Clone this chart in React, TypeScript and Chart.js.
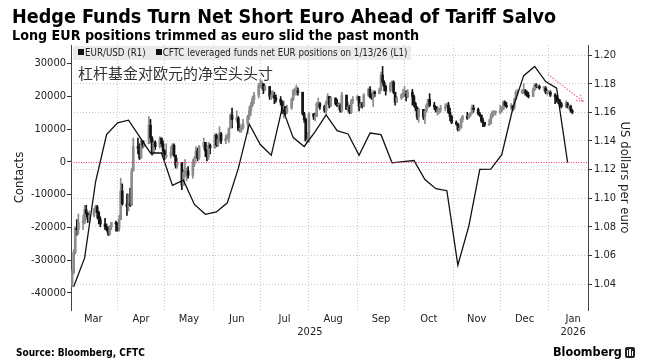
import React, { useEffect, useRef } from 'react';
import { Chart, registerables } from 'chart.js';
Chart.register(...registerables);

const FONT = "'DejaVu Sans Condensed', 'DejaVu Sans', sans-serif";

// Day numbers counted from 1 Jan 2025 (= 0)
const X_MIN = 60.3;
const X_MAX = 390;
const eurFirstMonday = 61; // Mon 3 Mar 2025
const eurFirstOpen = 1.04;

// EUR/USD daily closes, one row per week (Mon..Fri)
const eurClose: number[][] = [
  [1.048, 1.062, 1.079, 1.078, 1.083],
  [1.083, 1.092, 1.089, 1.085, 1.088],
  [1.092, 1.094, 1.090, 1.085, 1.082],
  [1.080, 1.079, 1.075, 1.080, 1.083],
  [1.082, 1.079, 1.085, 1.105, 1.096],
  [1.094, 1.096, 1.095, 1.119, 1.136],
  [1.135, 1.128, 1.140, 1.137, 1.138],
  [1.151, 1.142, 1.131, 1.139, 1.136],
  [1.142, 1.138, 1.133, 1.129, 1.130],
  [1.132, 1.137, 1.130, 1.123, 1.125],
  [1.109, 1.118, 1.118, 1.119, 1.116],
  [1.124, 1.128, 1.133, 1.128, 1.136],
  [1.139, 1.133, 1.129, 1.137, 1.135],
  [1.144, 1.137, 1.141, 1.145, 1.140],
  [1.142, 1.142, 1.149, 1.158, 1.155],
  [1.156, 1.148, 1.148, 1.149, 1.152],
  [1.157, 1.161, 1.165, 1.169, 1.172],
  [1.179, 1.180, 1.180, 1.176, 1.178],
  [1.171, 1.172, 1.172, 1.170, 1.169],
  [1.167, 1.160, 1.164, 1.160, 1.163],
  [1.169, 1.175, 1.175, 1.175, 1.174],
  [1.159, 1.155, 1.140, 1.141, 1.159],
  [1.157, 1.157, 1.166, 1.166, 1.164],
  [1.161, 1.167, 1.171, 1.165, 1.170],
  [1.166, 1.165, 1.165, 1.161, 1.172],
  [1.162, 1.164, 1.160, 1.168, 1.169],
  [1.171, 1.164, 1.166, 1.164, 1.172],
  [1.176, 1.171, 1.170, 1.174, 1.173],
  [1.176, 1.186, 1.181, 1.178, 1.175],
  [1.180, 1.181, 1.174, 1.167, 1.170],
  [1.172, 1.173, 1.173, 1.171, 1.174],
  [1.171, 1.166, 1.163, 1.157, 1.162],
  [1.157, 1.161, 1.165, 1.169, 1.165],
  [1.164, 1.161, 1.161, 1.162, 1.163],
  [1.163, 1.165, 1.160, 1.157, 1.153],
  [1.152, 1.148, 1.149, 1.155, 1.157],
  [1.156, 1.158, 1.159, 1.163, 1.162],
  [1.159, 1.158, 1.154, 1.153, 1.151],
  [1.152, 1.157, 1.160, 1.160, 1.160],
  [1.161, 1.162, 1.167, 1.165, 1.164],
  [1.164, 1.163, 1.169, 1.174, 1.174],
  [1.175, 1.175, 1.174, 1.172, 1.171],
  [1.176, 1.179, 1.178, 1.178, 1.177],
  [1.177, 1.174, 1.174, 1.174, 1.172],
  [1.171, 1.169, 1.168, 1.166, 1.164],
  [1.166, 1.164, 1.164, 1.161, 1.160],
];

const eurHigh: number[][] = [
  [1.050, 1.064, 1.080, 1.085, 1.089],
  [1.088, 1.095, 1.095, 1.090, 1.091],
  [1.093, 1.095, 1.095, 1.091, 1.087],
  [1.086, 1.082, 1.080, 1.081, 1.083],
  [1.084, 1.083, 1.088, 1.114, 1.110],
  [1.103, 1.103, 1.107, 1.121, 1.142],
  [1.142, 1.138, 1.141, 1.140, 1.140],
  [1.157, 1.155, 1.143, 1.140, 1.140],
  [1.143, 1.142, 1.140, 1.134, 1.138],
  [1.136, 1.138, 1.138, 1.130, 1.128],
  [1.125, 1.120, 1.127, 1.121, 1.122],
  [1.127, 1.129, 1.136, 1.135, 1.137],
  [1.142, 1.139, 1.134, 1.139, 1.138],
  [1.145, 1.145, 1.143, 1.150, 1.146],
  [1.144, 1.145, 1.149, 1.159, 1.163],
  [1.161, 1.157, 1.152, 1.151, 1.155],
  [1.158, 1.164, 1.167, 1.171, 1.174],
  [1.180, 1.183, 1.182, 1.180, 1.179],
  [1.178, 1.175, 1.175, 1.174, 1.172],
  [1.171, 1.168, 1.168, 1.164, 1.165],
  [1.170, 1.176, 1.177, 1.179, 1.177],
  [1.174, 1.160, 1.156, 1.146, 1.160],
  [1.159, 1.160, 1.167, 1.170, 1.167],
  [1.165, 1.168, 1.173, 1.171, 1.171],
  [1.170, 1.169, 1.167, 1.166, 1.174],
  [1.172, 1.167, 1.165, 1.169, 1.171],
  [1.172, 1.171, 1.167, 1.167, 1.173],
  [1.177, 1.178, 1.173, 1.175, 1.175],
  [1.177, 1.188, 1.192, 1.182, 1.179],
  [1.181, 1.182, 1.182, 1.174, 1.171],
  [1.173, 1.176, 1.178, 1.175, 1.176],
  [1.176, 1.172, 1.167, 1.164, 1.163],
  [1.162, 1.162, 1.166, 1.169, 1.173],
  [1.167, 1.164, 1.164, 1.163, 1.165],
  [1.166, 1.166, 1.167, 1.163, 1.158],
  [1.154, 1.152, 1.151, 1.156, 1.158],
  [1.160, 1.159, 1.160, 1.165, 1.165],
  [1.163, 1.160, 1.158, 1.156, 1.153],
  [1.155, 1.159, 1.161, 1.161, 1.161],
  [1.165, 1.164, 1.168, 1.168, 1.167],
  [1.166, 1.165, 1.170, 1.175, 1.176],
  [1.176, 1.180, 1.176, 1.175, 1.174],
  [1.177, 1.180, 1.180, 1.179, 1.179],
  [1.178, 1.178, 1.176, 1.175, 1.175],
  [1.173, 1.172, 1.170, 1.169, 1.167],
  [1.168, 1.167, 1.165, 1.165, 1.162],
];

const eurLow: number[][] = [
  [1.038, 1.047, 1.061, 1.074, 1.075],
  [1.078, 1.082, 1.087, 1.083, 1.084],
  [1.087, 1.090, 1.086, 1.082, 1.080],
  [1.078, 1.077, 1.074, 1.074, 1.078],
  [1.077, 1.077, 1.077, 1.086, 1.095],
  [1.088, 1.091, 1.094, 1.096, 1.120],
  [1.131, 1.127, 1.128, 1.135, 1.136],
  [1.138, 1.139, 1.130, 1.131, 1.134],
  [1.135, 1.136, 1.131, 1.127, 1.128],
  [1.128, 1.130, 1.129, 1.121, 1.121],
  [1.106, 1.110, 1.115, 1.112, 1.114],
  [1.114, 1.122, 1.128, 1.126, 1.127],
  [1.134, 1.129, 1.126, 1.127, 1.131],
  [1.135, 1.136, 1.136, 1.139, 1.138],
  [1.138, 1.141, 1.139, 1.149, 1.149],
  [1.153, 1.147, 1.146, 1.146, 1.148],
  [1.145, 1.155, 1.158, 1.164, 1.166],
  [1.170, 1.177, 1.176, 1.173, 1.175],
  [1.169, 1.169, 1.170, 1.166, 1.167],
  [1.165, 1.159, 1.156, 1.158, 1.159],
  [1.162, 1.168, 1.172, 1.172, 1.172],
  [1.158, 1.153, 1.140, 1.139, 1.139],
  [1.155, 1.154, 1.157, 1.163, 1.162],
  [1.160, 1.159, 1.166, 1.163, 1.164],
  [1.165, 1.164, 1.162, 1.160, 1.160],
  [1.162, 1.160, 1.159, 1.159, 1.166],
  [1.168, 1.161, 1.163, 1.163, 1.164],
  [1.171, 1.170, 1.169, 1.164, 1.171],
  [1.173, 1.175, 1.179, 1.175, 1.172],
  [1.174, 1.178, 1.173, 1.165, 1.167],
  [1.169, 1.170, 1.171, 1.168, 1.170],
  [1.165, 1.164, 1.161, 1.155, 1.153],
  [1.155, 1.152, 1.160, 1.163, 1.164],
  [1.162, 1.160, 1.158, 1.159, 1.160],
  [1.161, 1.163, 1.159, 1.154, 1.152],
  [1.151, 1.147, 1.147, 1.149, 1.153],
  [1.155, 1.156, 1.157, 1.159, 1.160],
  [1.158, 1.157, 1.153, 1.150, 1.150],
  [1.151, 1.152, 1.156, 1.158, 1.158],
  [1.159, 1.160, 1.162, 1.164, 1.163],
  [1.162, 1.161, 1.162, 1.169, 1.172],
  [1.173, 1.173, 1.172, 1.171, 1.170],
  [1.171, 1.175, 1.177, 1.177, 1.176],
  [1.175, 1.173, 1.172, 1.173, 1.171],
  [1.166, 1.167, 1.166, 1.164, 1.163],
  [1.163, 1.163, 1.162, 1.160, 1.159],
];

// CFTC leveraged funds net EUR positions, weekly (Tuesdays from 4 Mar 2025)
const cftcFirstTuesday = 62;
const cftcNet: number[] = [
  -38100, -29300, -6000, 8300, 11900, 12700, 7700, 2700, 2700, -7200,
  -5600, -13000, -16000, -15300, -12500, -2000, 11500, 5300, 2000, 16500,
  7400, 4700, 9200, 14300, 9500, 8500, 2000, 8800, 8300, -300,
  100, 400, -5400, -8200, -8800, -31500, -19600, -2300, -2200, 2200,
  16200, 26300, 29100, 24500, 22500, -200,
];

const monthStartDays = [59, 90, 120, 151, 181, 212, 243, 273, 304, 334, 365, 396];
const monthLabels = ['Mar', 'Apr', 'May', 'Jun', 'Jul', 'Aug', 'Sep', 'Oct', 'Nov', 'Dec', 'Jan'];
const yearLabels = ['2025', '2026'];
const yearStartDay2026 = 365;
const leftTicks = [-40000, -30000, -20000, -10000, 0, 10000, 20000, 30000];
const rightTicks = [1.04, 1.06, 1.08, 1.1, 1.12, 1.14, 1.16, 1.18, 1.2];
const LEFT_MIN = -45198;
const LEFT_MAX = 35653;
const RIGHT_MIN = 1.0219;
const RIGHT_MAX = 1.207;
const arrowFrom = { x: 364.3, y: 1.1866 };
const arrowTo = { x: 387, y: 1.1675 };

export default function App() {
  const ref = useRef<HTMLCanvasElement | null>(null);

  useEffect(() => {
    const canvas = ref.current;
    if (!canvas) return;

    const wicks: any[] = [];
    const bodies: any[] = [];
    const colors: string[] = [];
    let prev = eurFirstOpen;
    eurClose.forEach((row, w) => {
      row.forEach((c, i) => {
        const d = eurFirstMonday + w * 7 + i;
        const o = prev;
        const hi = Math.max(eurHigh[w][i], o, c);
        const lo = Math.min(eurLow[w][i], o, c);
        wicks.push({ x: d, y: [lo, hi] });
        bodies.push({ x: d, y: [o, c] });
        colors.push(c < o ? '#141414' : '#8c8c8c');
        prev = c;
      });
    });
    const cftcPoints = cftcNet.map((v, k) => ({ x: cftcFirstTuesday + 7 * k, y: v }));

    // label ticks: month mid-points, plus year label
    const labelTicks: { value: number; label: string | string[] }[] = [];
    monthLabels.forEach((m, i) => {
      const mid = (monthStartDays[i] + monthStartDays[i + 1]) / 2;
      if (monthStartDays[i] >= yearStartDay2026) labelTicks.push({ value: mid, label: [m, yearLabels[1]] });
      else labelTicks.push({ value: mid, label: m });
    });
    labelTicks.push({ value: (X_MIN + yearStartDay2026) / 2, label: ['', yearLabels[0]] });
    labelTicks.sort((a, b) => a.value - b.value);

    const overlay = {
      id: 'overlay',
      afterDatasetsDraw(chart: any) {
        const { ctx, chartArea, scales } = chart;
        const y0 = Math.round(scales.yL.getPixelForValue(0)) + 0.5;
        ctx.save();
        ctx.strokeStyle = '#ff3157';
        ctx.lineWidth = 1;
        ctx.setLineDash([1, 1.5]);
        ctx.beginPath();
        ctx.moveTo(chartArea.left, y0);
        ctx.lineTo(chartArea.right, y0);
        ctx.stroke();

        const x1 = scales.x.getPixelForValue(arrowFrom.x);
        const y1 = scales.yR.getPixelForValue(arrowFrom.y);
        const x2 = scales.x.getPixelForValue(arrowTo.x);
        const y2 = scales.yR.getPixelForValue(arrowTo.y);
        ctx.strokeStyle = '#f2708c';
        ctx.lineWidth = 1.2;
        ctx.setLineDash([1.5, 1.5]);
        ctx.beginPath();
        ctx.moveTo(x1, y1);
        ctx.lineTo(x2, y2);
        const ang = Math.atan2(y2 - y1, x2 - x1);
        const L = 8;
        ctx.moveTo(x2, y2);
        ctx.lineTo(x2 - L * Math.cos(ang - 0.5), y2 - L * Math.sin(ang - 0.5));
        ctx.moveTo(x2, y2);
        ctx.lineTo(x2 - L * Math.cos(ang + 0.5), y2 - L * Math.sin(ang + 0.5));
        ctx.stroke();
        ctx.restore();
      },
    };

    const tickFont = { family: FONT, size: 11 };
    const chart = new Chart(canvas, {
      data: {
        datasets: [
          {
            type: 'line',
            label: 'CFTC',
            data: cftcPoints,
            xAxisID: 'x',
            yAxisID: 'yL',
            borderColor: '#111',
            borderWidth: 1.3,
            pointRadius: 0,
            tension: 0,
            order: 0,
          } as any,
          {
            type: 'bar',
            label: 'wick',
            data: wicks,
            xAxisID: 'x',
            yAxisID: 'yR',
            backgroundColor: colors,
            barThickness: 1,
            grouped: false,
            order: 2,
          } as any,
          {
            type: 'bar',
            label: 'body',
            data: bodies,
            xAxisID: 'x',
            yAxisID: 'yR',
            backgroundColor: colors,
            barThickness: 2,
            minBarLength: 1,
            grouped: false,
            order: 1,
          } as any,
        ],
      },
      options: {
        responsive: false,
        animation: false,
        devicePixelRatio: 1,
        layout: { padding: { top: 45, left: 0, right: 0, bottom: 25 } },
        plugins: { legend: { display: false }, tooltip: { enabled: false } },
        scales: {
          x: {
            type: 'linear',
            position: 'bottom',
            min: X_MIN,
            max: X_MAX,
            offset: false,
            weight: 2,
            afterBuildTicks: (s: any) => {
              s.ticks = monthStartDays.filter((d) => d > X_MIN && d < X_MAX).map((v) => ({ value: v }));
            },
            afterFit: (s: any) => {
              s.height = 0;
            },
            ticks: { display: false },
            grid: { color: '#c9c9c9', lineWidth: 1, drawTicks: false, offset: false },
            border: { display: false, dash: [1, 2] },
          },
          x2: {
            type: 'linear',
            position: 'bottom',
            min: X_MIN,
            max: X_MAX,
            offset: false,
            weight: 1,
            afterBuildTicks: (s: any) => {
              s.ticks = labelTicks.map((t) => ({ value: t.value }));
            },
            afterFit: (s: any) => {
              s.height = 28;
            },
            ticks: {
              autoSkip: false,
              maxRotation: 0,
              minRotation: 0,
              padding: 2.5,
              color: '#222',
              font: tickFont,
              callback: (_v: any, i: number) => labelTicks[i].label,
            },
            grid: { display: false, drawTicks: false },
            border: { display: false },
          },
          yL: {
            type: 'linear',
            position: 'left',
            min: LEFT_MIN,
            max: LEFT_MAX,
            afterBuildTicks: (s: any) => {
              s.ticks = leftTicks.map((v) => ({ value: v }));
            },
            afterFit: (s: any) => {
              s.width = 71;
            },
            ticks: {
              color: '#222',
              font: tickFont,
              padding: 1,
              callback: (v: any) => String(v),
            },
            grid: { drawOnChartArea: false, drawTicks: true, tickLength: 4, tickColor: '#333', tickWidth: 1 },
            border: { display: true, color: '#444', width: 1 },
            title: {
              display: true,
              text: 'Contacts',
              color: '#222',
              font: { family: FONT, size: 13 },
              padding: { top: 12, bottom: 0 },
            },
          },
          yR: {
            type: 'linear',
            position: 'right',
            min: RIGHT_MIN,
            max: RIGHT_MAX,
            afterBuildTicks: (s: any) => {
              s.ticks = rightTicks.map((v) => ({ value: v }));
            },
            afterFit: (s: any) => {
              s.width = 66;
            },
            ticks: {
              color: '#222',
              font: tickFont,
              padding: 2,
              callback: (v: any) => Number(v).toFixed(2),
            },
            grid: {
              color: '#c9c9c9',
              lineWidth: 1,
              drawOnChartArea: true,
              drawTicks: true,
              tickLength: 4,
              tickColor: '#333',
              tickWidth: 1,
              tickBorderDash: [],
            },
            border: { display: true, color: '#444', width: 1, dash: [1, 2] },
            title: {
              display: true,
              text: 'US dollars per euro',
              color: '#222',
              font: { family: FONT, size: 13 },
              padding: { top: 22, bottom: 0 },
            },
          },
        },
      } as any,
      plugins: [overlay],
    });
    return () => chart.destroy();
  }, []);

  const sq = { display: 'inline-block', width: 6, height: 6, background: '#111', marginRight: 1, verticalAlign: 'middle', position: 'relative' as const, top: -1 };

  return (
    <div style={{ position: 'absolute', left: 0, top: 0, width: 654, height: 363, background: '#fff', overflow: 'hidden', fontFamily: FONT, color: '#000' }}>
      <canvas ref={ref} width={654} height={363} style={{ position: 'absolute', left: 0, top: 0, width: 654, height: 363 }} />
      <div style={{ position: 'absolute', left: 12, top: 6, fontSize: 19.6, fontWeight: 'bold', lineHeight: '22px', whiteSpace: 'nowrap' }}>
        Hedge Funds Turn Net Short Euro Ahead of Tariff Salvo
      </div>
      <div style={{ position: 'absolute', left: 12, top: 27, fontSize: 14.2, fontWeight: 'bold', lineHeight: '16px', whiteSpace: 'nowrap' }}>
        Long EUR positions trimmed as euro slid the past month
      </div>
      <div style={{ position: 'absolute', left: 73, top: 46, width: 338, height: 14, background: 'rgba(232,232,232,0.9)', fontSize: 9.7, lineHeight: '14px', color: '#222', whiteSpace: 'nowrap', paddingLeft: 5, boxSizing: 'border-box' }}>
        <span style={sq} />EUR/USD (R1)
        <span style={{ ...sq, marginLeft: 10 }} />CFTC leveraged funds net EUR positions on 1/13/26 (L1)
      </div>
      <div style={{ position: 'absolute', left: 78, top: 63, fontSize: 15, lineHeight: '20px', color: '#333', fontFamily: "'Noto Sans CJK SC', sans-serif", whiteSpace: 'nowrap' }}>
        杠杆基金对欧元的净空头头寸
      </div>
      <div style={{ position: 'absolute', left: 16, top: 347, fontSize: 10, fontWeight: 'bold', lineHeight: '12px', whiteSpace: 'nowrap' }}>
        Source: Bloomberg, CFTC
      </div>
      <div style={{ position: 'absolute', left: 553, top: 344, fontSize: 12.5, fontWeight: 'bold', lineHeight: '16px', whiteSpace: 'nowrap', display: 'flex', alignItems: 'center' }}>
        Bloomberg
        <span style={{ display: 'inline-block', width: 10, height: 11, background: '#222', borderRadius: 2, marginLeft: 3, position: 'relative' }}>
          <span style={{ position: 'absolute', left: 2, top: 3, width: 1.5, height: 6, background: '#fff' }} />
          <span style={{ position: 'absolute', left: 4.5, top: 2, width: 1.5, height: 7, background: '#fff' }} />
          <span style={{ position: 'absolute', left: 7, top: 4, width: 1.5, height: 5, background: '#fff' }} />
        </span>
      </div>
    </div>
  );
}
